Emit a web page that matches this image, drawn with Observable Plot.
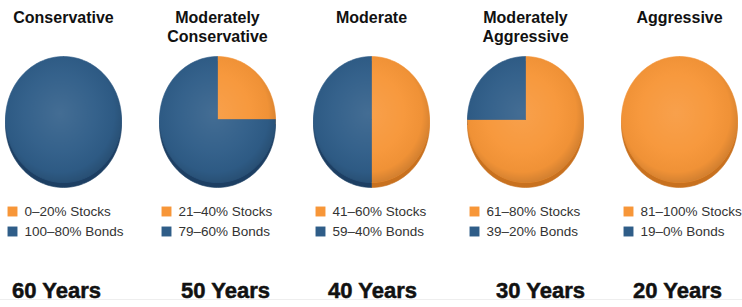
<!DOCTYPE html>
<html><head><meta charset="utf-8">
<script src="https://cdn.jsdelivr.net/npm/d3@7"></script>
<script src="https://cdn.jsdelivr.net/npm/@observablehq/plot@0.6"></script>
<style>body{margin:0;background:#fff} svg{display:block}</style>
</head><body><div id="chart"></div>
<script>
// ---- data ----
const profiles = ["Conservative","Moderately Conservative","Moderate","Moderately Aggressive","Aggressive"];
const titleLines = [["Conservative"],["Moderately","Conservative"],["Moderate"],["Moderately","Aggressive"],["Aggressive"]];
const stockShare = [0, 25, 50, 75, 100];   // % of pie drawn as stocks
const stockLabels = ["0–20% Stocks","21–40% Stocks","41–60% Stocks","61–80% Stocks","81–100% Stocks"];
const bondLabels = ["100–80% Bonds","79–60% Bonds","59–40% Bonds","39–20% Bonds","19–0% Bonds"];
const horizons = ["60 Years","50 Years","40 Years","30 Years","20 Years"];

// ---- layout ----
const W = 742, H = 307, STEP = 154, FIRST = 63;
const CY = 119, RX = 58, RY = 63, RXU = RX / STEP;
const yearNudge = [-7, 8, 1, 15, -2];
const ORANGE = "#f79638", BLUE = "#2f5d88", ORANGE_D = "#c8711f", BLUE_D = "#1d3f63";

const slices = [];
stockShare.forEach((s, i) => {
  const parts = [["Stocks", 0, s / 100], ["Bonds", s / 100, 1]];
  for (const [asset, a0, a1] of parts) {
    if (a1 - a0 <= 0) continue;
    const full = a1 - a0 >= 1;
    const key = i + asset;
    const n = Math.max(4, Math.ceil((a1 - a0) * 160));
    if (!full) slices.push({key, asset, i, x: i, y: CY});
    for (let k = 0; k <= n; k++) {
      const t = 2 * Math.PI * (a0 + (a1 - a0) * k / n);
      slices.push({key, asset, i, x: i + RXU * Math.sin(t), y: CY - RY * Math.cos(t)});
    }
    if (!full) slices.push({key, asset, i, x: i, y: CY});
  }
});
const outlines = [];
profiles.forEach((p, i) => {
  for (let k = 0; k <= 160; k++) {
    const t = 2 * Math.PI * k / 160;
    outlines.push({i, x: i + RXU * Math.sin(t), y: CY - RY * Math.cos(t)});
  }
});
const titles = titleLines.flatMap((lines, i) => lines.map((t, line) => ({i, line, t})));
const legend = profiles.flatMap((p, i) => [
  {i, row: 0, asset: "Stocks", label: stockLabels[i]},
  {i, row: 1, asset: "Bonds", label: bondLabels[i]}
]);

const TF = "Liberation Sans, Arial, sans-serif";

const chart = Plot.plot({
  width: W, height: H,
  margin: 0,
  x: {domain: [-FIRST / STEP, (W - FIRST) / STEP], axis: null},
  y: {domain: [H, 0], axis: null},
  color: {domain: ["Stocks", "Bonds", "Stocks rim", "Bonds rim"], range: [ORANGE, BLUE, ORANGE_D, BLUE_D]},
  marks: [
    Plot.ruleY([299], {stroke: "#eeeeee", strokeWidth: 1}),
    Plot.line(slices, {x: "x", y: "y", z: "key", fill: d => d.asset + " rim", stroke: d => d.asset + " rim", strokeWidth: 0.6, dy: 5}),
    Plot.line(slices, {x: "x", y: "y", z: "key", fill: "asset", stroke: "asset", strokeWidth: 0.6}),
    Plot.line(outlines, {x: "x", y: "y", z: "i", fill: "url(#shade)", stroke: "none"}),
    Plot.text(titles.filter(d => d.line === 0), {x: "i", text: "t", frameAnchor: "top", lineAnchor: "middle", dy: 17, fontSize: 16, fontWeight: 700, fontFamily: TF, fill: "#111"}),
    Plot.text(titles.filter(d => d.line === 1), {x: "i", text: "t", frameAnchor: "top", lineAnchor: "middle", dy: 36, fontSize: 16, fontWeight: 700, fontFamily: TF, fill: "#111"}),
    Plot.dot(legend.filter(d => d.row === 0), {x: "i", frameAnchor: "top", dy: 211, dx: -51, symbol: "square", r: 5.6, fill: "asset", stroke: "none"}),
    Plot.dot(legend.filter(d => d.row === 1), {x: "i", frameAnchor: "top", dy: 231, dx: -51, symbol: "square", r: 5.6, fill: "asset", stroke: "none"}),
    Plot.text(legend.filter(d => d.row === 0), {x: "i", text: "label", frameAnchor: "top", lineAnchor: "middle", dy: 211.5, dx: -39, textAnchor: "start", fontSize: 13.5, letterSpacing: -0.35, fontFamily: TF, fill: "#333"}),
    Plot.text(legend.filter(d => d.row === 1), {x: "i", text: "label", frameAnchor: "top", lineAnchor: "middle", dy: 231.5, dx: -39, textAnchor: "start", fontSize: 13.5, letterSpacing: -0.35, fontFamily: TF, fill: "#333"}),
    Plot.text(horizons, {x: (d, i) => i + yearNudge[i] / STEP, text: d => d, frameAnchor: "top", lineAnchor: "middle", dy: 290, fontSize: 22, fontWeight: 700, fontFamily: TF, fill: "#111", stroke: "#111", strokeWidth: 0.5})
  ]
});
chart.insertAdjacentHTML("afterbegin",
  `<defs><radialGradient id="shade" cx="0.47" cy="0.45" r="0.55">
     <stop offset="0" stop-color="#ffffff" stop-opacity="0.10"/>
     <stop offset="0.55" stop-color="#ffffff" stop-opacity="0.03"/>
     <stop offset="0.85" stop-color="#000000" stop-opacity="0.03"/>
     <stop offset="1" stop-color="#000000" stop-opacity="0.14"/>
   </radialGradient></defs>`);
document.getElementById("chart").appendChild(chart);
</script>
</body></html>
